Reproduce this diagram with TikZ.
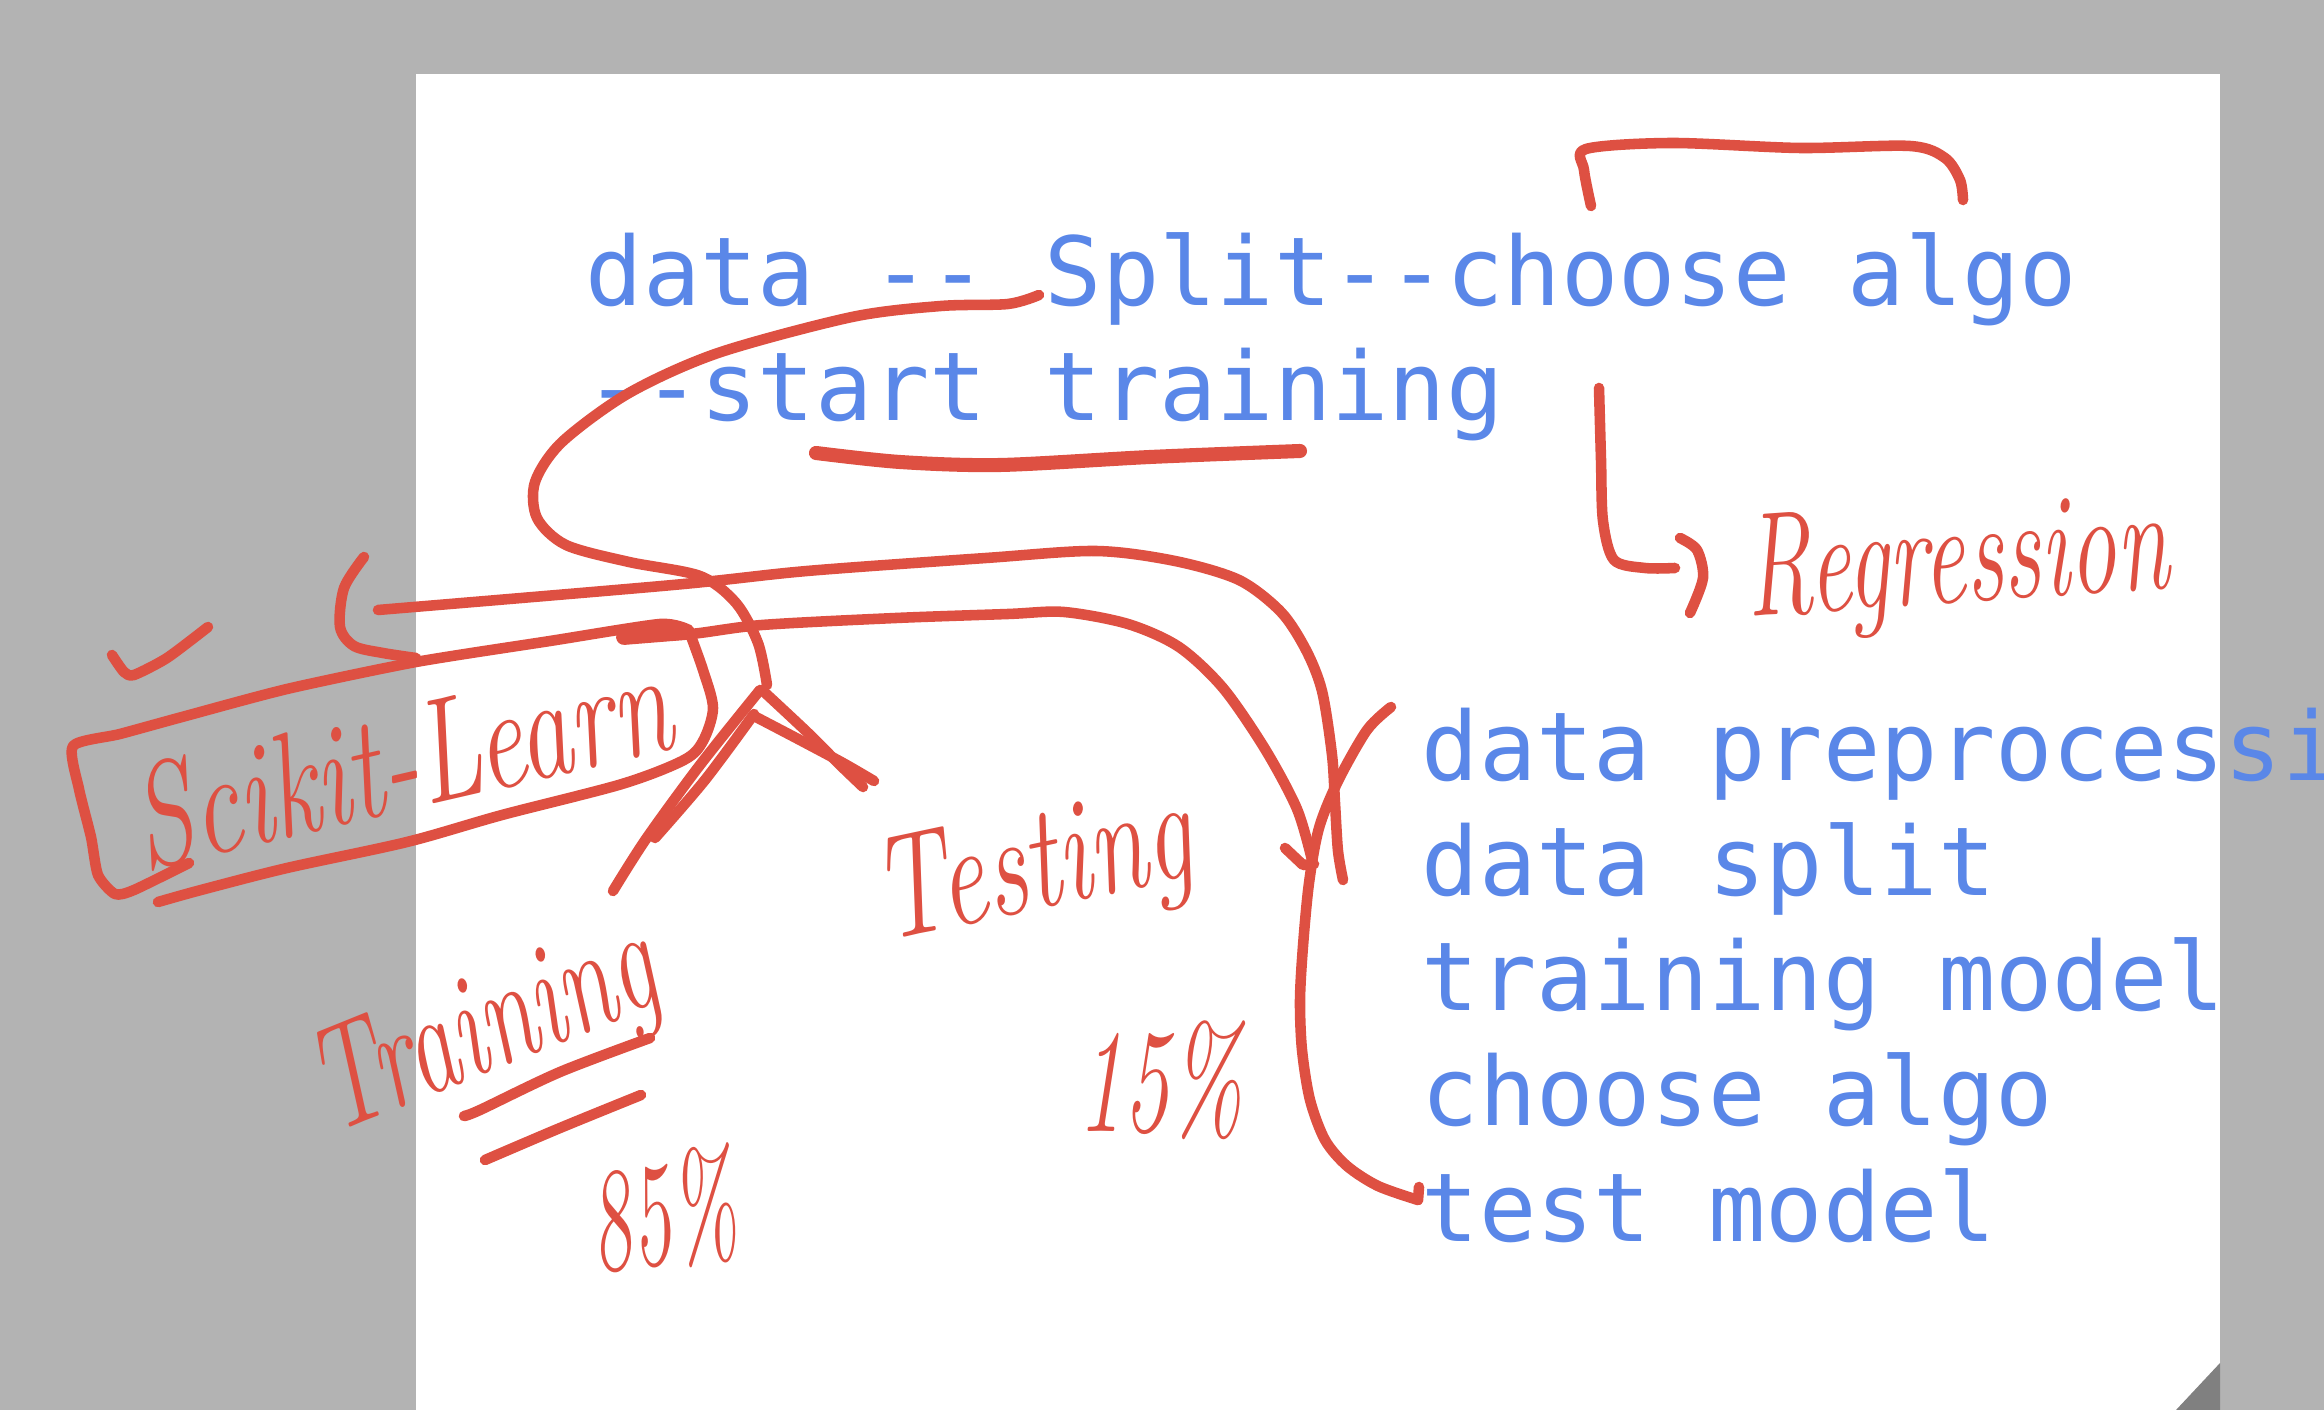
\documentclass[tikz,border=0pt]{standalone}
\usepackage{fontspec}
\setmonofont{DejaVu Sans Mono}
\definecolor{grisFondo}{HTML}{B3B3B3}
\definecolor{grisPliegue}{HTML}{808080}
\definecolor{azulTexto}{HTML}{5A87E8}
\definecolor{rojoTinta}{HTML}{DE5042}

\begin{document}
\begin{tikzpicture}[x=.01cm,y=-.01cm,
  ink/.style={rojoTinta,line width=3pt,line cap=round,line join=round},
  typed/.style={font=\fontsize{27.1}{32}\selectfont\ttfamily,text=azulTexto,inner sep=0pt,anchor=base west},
  hand/.style={font=\fontsize{42}{42}\selectfont\itshape,text=rojoTinta,inner sep=0pt}]
  \useasboundingbox (0,0) rectangle (2324,1410);
  \fill[grisFondo] (0,0) rectangle (2324,1410);
  \fill[white] (416,74) rectangle (2220,1410);
  \fill[grisPliegue] (2220,1363) -- (2220,1410) -- (2176,1410) -- cycle;

  % typed notes
  \node[typed] (flowA) at (585,306) {data -- Split--choose algo};
  \node[typed] (flowB) at (585,421) {--start training};
  \foreach \txt [count=\i] in {data preprocessi,data split,training model,choose algo,test model}
    \node[typed] (step\i) at (1421,666+115*\i) {\txt};

  % handwriting
  \node[hand,anchor=base west,rotate=4] (regression) at (1748,617) {\scalebox{.64}[1]{Regression}};
  \node[hand,rotate=13] (sklearn) at (400,760) {\scalebox{.72}[1]{Scikit-Learn}};
  \node[hand,rotate=22] (training) at (486,1035) {\scalebox{.67}[1]{Training}};
  \node[hand,rotate=12] (testing) at (1034,874) {\scalebox{.7}[1]{Testing}};
  \node[hand,rotate=8] (pctTrain) at (662,1212) {\scalebox{.55}[1]{85\%}};
  \node[hand] (pctTest) at (1160,1080) {\scalebox{.62}[1]{15\%}};

  % bracket over "choose algo" and the turn to Regression
  \draw[ink] plot[smooth,tension=.5] coordinates {(1591,206) (1584,170) (1586,149) (1672,143) (1800,148) (1910,146) (1945,158) (1960,180) (1963,200)};
  \draw[ink] plot[smooth,tension=.5] coordinates {(1599,388) (1601,460) (1603,521) (1614,560) (1645,568) (1675,568)};
  \draw[ink] plot[smooth] coordinates {(1680,538) (1697,550) (1703,578) (1690,613)};

  % underline of "start training"
  \draw[ink,line width=4pt] plot[smooth] coordinates {(816,453) (900,462) (1000,465) (1150,457) (1300,451)};

  % Split curve and the fork
  \draw[ink] plot[smooth] coordinates {(1039,295) (1008,304) (941,306) (852,317) (718,353) (629,393) (562,442) (535,482) (537,518) (566,545) (629,562) (700,576) (736,603) (758,643) (767,685)};
  \draw[ink] plot[smooth] coordinates {(760,690) (700,765) (646,839) (613,891)};
  \draw[ink] plot[smooth] coordinates {(754,714) (705,780) (655,838)};
  \draw[ink] plot[smooth] coordinates {(762,690) (807,732) (838,763) (863,787)};
  \draw[ink] plot[smooth] coordinates {(754,716) (798,739) (843,763) (874,781)};

  % box round Scikit-Learn
  \draw[ink] plot[smooth,tension=.4] coordinates {(689,630) (660,624) (550,641) (416,662) (287,689) (182,717) (120,734) (73,746) (79,789) (91,837) (98,875) (115,894) (134,890) (189,863)};
  \draw[ink] plot[smooth,tension=.5] coordinates {(158,902) (201,890) (287,868) (407,842) (502,815) (622,784) (684,760) (703,741) (713,708) (703,670) (689,631)};

  % tick and bracket on the left
  \draw[ink] plot[smooth,tension=.4] coordinates {(112,655) (124,672) (134,675) (167,658) (208,627)};
  \draw[ink] plot[smooth] coordinates {(364,557) (344,588) (340,627) (354,646) (383,653) (416,658)};

  % the two long strokes to the list
  \draw[ink] plot[smooth] coordinates {(378,610) (673,585) (807,571) (986,558) (1096,551) (1175,561) (1239,580) (1281,612) (1306,650) (1322,691) (1332,755) (1335,803) (1338,851) (1343,880)};
  \draw[ink,line width=4.5pt] (624,637) -- (686,632);
  \draw[ink] plot[smooth] coordinates {(622,638) (691,634) (762,625) (896,618) (1008,614) (1064,612) (1128,624) (1179,647) (1223,688) (1265,749) (1297,809) (1312,860)};
  \draw[ink] (1285,848) -- (1303,865) -- (1314,864);

  % curly stroke beside the steps
  \draw[ink] plot[smooth] coordinates {(1391,707) (1367,730) (1338,781) (1319,828) (1309,883) (1303,946) (1300,1000) (1302,1050) (1310,1100) (1325,1140) (1347,1166) (1378,1186) (1418,1200)};
  \draw[ink] (1418,1200) -- (1419,1187);

  % underlines of Training
  \draw[ink] plot[smooth] coordinates {(464,1116) (480,1110) (560,1072) (650,1038)};
  \draw[ink] plot[smooth] coordinates {(485,1160) (560,1128) (641,1095)};
\end{tikzpicture}
\end{document}
